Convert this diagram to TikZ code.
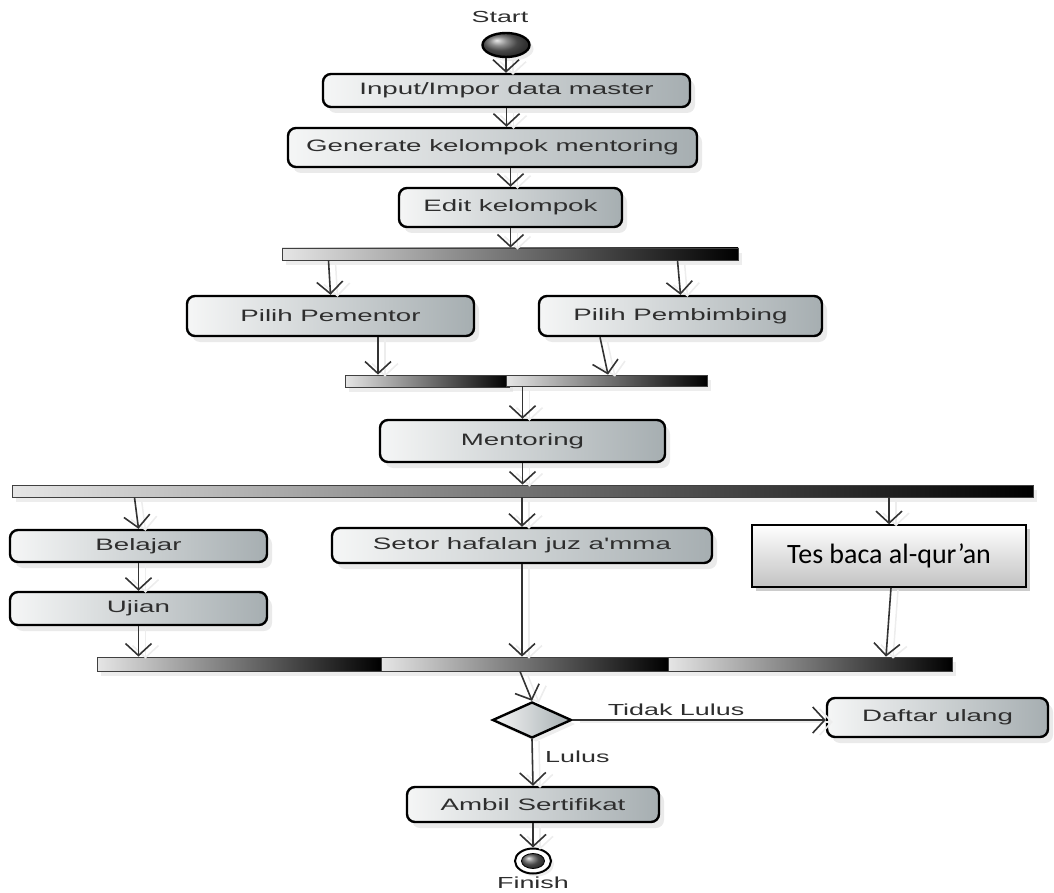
\documentclass[tikz,border=0pt]{standalone}
\usepackage{fontspec}
\newfontfamily\umlfont[FakeStretch=1.68]{Liberation Sans}
\newfontfamily\calfont{Carlito}
\usetikzlibrary{arrows.meta,shadows,shapes.geometric,calc}
\definecolor{boxL}{HTML}{F5F6F6}
\definecolor{boxR}{HTML}{A6AEB1}
\definecolor{txt}{HTML}{2E2E2E}
\begin{document}
\begin{tikzpicture}[x=1pt,y=-1pt,
  act/.style={draw=black, line width=2.4pt, rounded corners=8pt,
    left color=boxL, right color=boxR,
    drop shadow={shadow xshift=5pt, shadow yshift=-6pt, fill=black!16},
    text=txt, font=\umlfont\fontsize{16.5}{19}\selectfont, inner sep=0pt},
  syncbar/.style={draw=black!75, line width=0.8pt, left color=black!10, right color=black,
    inner sep=0pt, drop shadow={shadow xshift=4pt, shadow yshift=-5pt, fill=black!14}},
  flow/.style={draw=black!80, line width=1.6pt,
    -{Straight Barb[length=12pt,width=26pt,line width=1.6pt]},
    preaction={draw=black!7, line width=1.5pt, transform canvas={xshift=7pt,yshift=-2pt}}},
  lbl/.style={text=txt, font=\umlfont\fontsize{16}{19}\selectfont, inner sep=0pt}]
\useasboundingbox (0,0) rectangle (1054,893);

% start
\node[lbl] (startlbl) at (500,17) {Start};
\node[ellipse, draw=black, line width=2.4pt, minimum width=47pt, minimum height=24pt,
  ball color=black!60, drop shadow={shadow xshift=4pt, shadow yshift=-4pt, fill=black!14}] (start) at (506,45) {};

% activities
\node[act, minimum width=367pt, minimum height=33pt] (inp) at (506.5,90.5) {Input/Impor data master};
\node[act, minimum width=409pt, minimum height=39pt] (gen) at (492.5,147.5) {Generate kelompok mentoring};
\node[act, minimum width=223pt, minimum height=39pt] (edit) at (510.5,207.5) {Edit kelompok};
\node[syncbar, minimum width=456pt, minimum height=12pt] (bar1) at (510,254) {};
\node[act, minimum width=287pt, minimum height=40pt] (pem) at (330.5,316) {Pilih Pementor};
\node[act, minimum width=283pt, minimum height=40pt] (pbb) at (680.5,316) {Pilih Pembimbing};
\node[syncbar, minimum width=164pt, minimum height=12pt] (bar2a) at (427,381) {};
\node[syncbar, minimum width=201pt, minimum height=11pt] (bar2b) at (606.5,380.5) {};
\node[act, minimum width=285pt, minimum height=42pt] (ment) at (522.5,441) {Mentoring};
\node[syncbar, minimum width=1021pt, minimum height=12pt] (bar3) at (522.5,491) {};
\node[act, minimum width=257pt, minimum height=32pt] (bel) at (138.5,546) {Belajar};
\node[act, minimum width=257pt, minimum height=33pt] (uji) at (138.5,608.5) {Ujian};
\node[act, minimum width=380pt, minimum height=35pt] (set) at (522,545.5) {Setor hafalan juz a'mma};
\node[draw=black, line width=1.6pt, top color=white, bottom color=black!24,
  drop shadow={shadow xshift=4pt, shadow yshift=-4pt, fill=black!40},
  minimum width=274pt, minimum height=62pt, inner sep=0pt,
  font=\calfont\fontsize{28}{32}\selectfont] (tes) at (889,556) {Tes baca al-qur’an};
\node[syncbar, minimum width=284pt, minimum height=14pt] (bar4a) at (239,664) {};
\node[syncbar, minimum width=287pt, minimum height=14pt] (bar4b) at (524.5,664) {};
\node[syncbar, minimum width=284pt, minimum height=14pt] (bar4c) at (810,664) {};
\node[diamond, draw=black, line width=2.4pt, minimum width=79pt, minimum height=36pt,
  inner sep=0pt, left color=boxL, right color=boxR,
  drop shadow={shadow xshift=4pt, shadow yshift=-4pt, fill=black!14}] (dia) at (532,720) {};
\node[act, minimum width=221pt, minimum height=39pt] (daf) at (937.5,717.5) {Daftar ulang};
\node[act, minimum width=252pt, minimum height=35pt] (amb) at (533,804.5) {Ambil Sertifikat};
\node[ellipse, draw=black, line width=2pt, fill=white, minimum width=36pt, minimum height=25pt,
  drop shadow={shadow xshift=3pt, shadow yshift=-3pt, fill=black!14}] (fin) at (533,861) {};
\node[ellipse, draw=black, line width=0.8pt, ball color=black!60, minimum width=23pt, minimum height=15pt] (fininner) at (533,861) {};
\node[lbl] (finlbl) at (533,883) {Finish};

% labels
\node[lbl] (tidak) at (676,710) {Tidak Lulus};
\node[lbl, anchor=west] (lulus) at (545,757) {Lulus};

% connectors
\draw[flow] (start) -- (inp.north -| start);
\draw[flow] (inp.south) -- (inp.south |- gen.north);
\draw[flow] (edit.north |- gen.south) -- (edit.north);
\draw[flow] (edit.south) -- (edit.south |- bar1.north);
\draw[flow] ([xshift=-2pt]pem.north |- bar1.south) -- (pem.north);
\draw[flow] ([xshift=-3pt]pbb.north |- bar1.south) -- (pbb.north);
\draw[flow] ([xshift=47.5pt]pem.south) -- ([xshift=-49pt]bar2a.north);
\draw[flow] ([xshift=-80.5pt]pbb.south) -- ([xshift=1.5pt]bar2b.north);
\draw[flow] (ment.north |- bar2b.south) -- (ment.north);
\draw[flow] (ment.south) -- (ment.south |- bar3.north);
\draw[flow] ([xshift=-4pt]bel.north |- bar3.south) -- (bel.north);
\draw[flow] (set.north |- bar3.south) -- (set.north);
\draw[flow] (tes.north |- bar3.south) -- (tes.north);
\draw[flow] (bel.south) -- (uji.north);
\draw[flow] (uji.south) -- (uji.south |- bar4a.north);
\draw[flow] (set.south) -- (set.south |- bar4b.north);
\draw[flow] ([xshift=2pt]tes.south) -- ([xshift=-3pt]bar4c.north -| tes.south);
\draw[flow] ([xshift=-4.5pt]bar4b.south) -- (dia.north);
\draw[flow] (dia.east) -- (dia.east -| daf.west);
\draw[flow] (dia.south) -- (amb.north);
\draw[flow] (amb.south) -- (fin.north);
\end{tikzpicture}
\end{document}
